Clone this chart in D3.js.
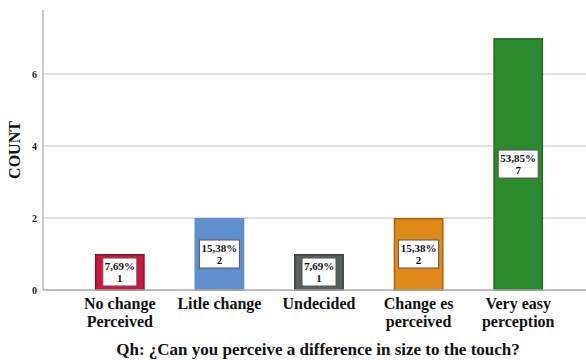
<!DOCTYPE html>
<html>
<head>
<meta charset="utf-8">
<script src="https://cdn.jsdelivr.net/npm/d3@7"></script>
<style>
  html, body { margin: 0; padding: 0; background: #fff; }
  svg { display: block; }
</style>
</head>
<body>
<svg id="chart" width="586" height="360"></svg>
<script>
// Response categories (two-line labels) and their counts
const categories = [
  ["No change", "Perceived"],
  ["Litle change"],
  ["Undecided"],
  ["Change es", "perceived"],
  ["Very easy", "perception"]
];
const counts = [1, 2, 1, 2, 7];
const percentLabels = ["7,69%", "15,38%", "7,69%", "15,38%", "53,85%"];
const yTicks = [0, 2, 4, 6];
const fills = ["#d3153b", "#5f8fcc", "#58625e", "#e08918", "#2b8a2c"];
const strokes = ["#7a1a2a", "#5f8fcc", "#3a403d", "#a8650f", "#236f24"];
const xTitle = "Qh: ¿Can you perceive a difference in size to the touch?";
const yTitle = "COUNT";

const serif = "'Liberation Serif', 'Times New Roman', Times, serif";
const svg = d3.select("#chart");
const axisLeft = 43, axisRight = 586, plotTop = 10, plotBottom = 290;

const x = d3.scaleBand()
  .domain(d3.range(counts.length))
  .range([70, 568])
  .paddingInner(0.5)
  .paddingOuter(0.25);

const y = d3.scaleLinear().domain([0, 7.78]).range([plotBottom, plotTop]);

// gridlines
svg.append("g").selectAll("line")
  .data(yTicks.filter(d => d > 0))
  .join("line")
  .attr("x1", axisLeft).attr("x2", axisRight)
  .attr("y1", d => y(d)).attr("y2", d => y(d))
  .attr("stroke", "#d6d6d6").attr("stroke-width", 1.5);

// y axis
const yAxis = svg.append("g")
  .attr("transform", `translate(${axisLeft},0)`)
  .call(d3.axisLeft(y).tickValues(yTicks).tickSize(0).tickPadding(6).tickFormat(d3.format("d")));
yAxis.attr("font-family", serif);
yAxis.select(".domain").remove();
yAxis.selectAll("text")
  .attr("font-weight", "bold")
  .attr("font-size", 10)
  .attr("fill", "#222");
svg.append("line")
  .attr("x1", axisLeft).attr("x2", axisLeft)
  .attr("y1", plotTop).attr("y2", plotBottom)
  .attr("stroke", "#b8b8b8").attr("stroke-width", 1.5);

// bars
svg.append("g").selectAll("rect")
  .data(counts)
  .join("rect")
  .attr("x", (d, i) => x(i) + 0.75)
  .attr("width", x.bandwidth() - 1.5)
  .attr("y", d => y(d) + 0.75)
  .attr("height", d => y(0) - y(d) - 0.75)
  .attr("fill", (d, i) => fills[i])
  .attr("stroke", (d, i) => strokes[i])
  .attr("stroke-width", 1.5);

// baseline
svg.append("line")
  .attr("x1", axisLeft).attr("x2", axisRight)
  .attr("y1", plotBottom).attr("y2", plotBottom)
  .attr("stroke", "#a8a8a8").attr("stroke-width", 1.5);

// value boxes centred in each bar
const labels = svg.append("g").selectAll("g")
  .data(counts)
  .join("g")
  .attr("transform", (d, i) => `translate(${x(i) + x.bandwidth() / 2},${(y(d) + y(0)) / 2})`);
labels.append("rect")
  .attr("x", (d, i) => percentLabels[i].length > 5 ? -20 : -17)
  .attr("width", (d, i) => percentLabels[i].length > 5 ? 40 : 34)
  .attr("y", -14).attr("height", 28)
  .attr("fill", "#fff")
  .attr("stroke", "#555").attr("stroke-width", 1);
labels.append("text")
  .attr("text-anchor", "middle")
  .attr("font-family", serif)
  .attr("font-weight", "bold")
  .attr("font-size", 11)
  .attr("fill", "#111")
  .attr("y", -2)
  .text((d, i) => percentLabels[i]);
labels.append("text")
  .attr("text-anchor", "middle")
  .attr("font-family", serif)
  .attr("font-weight", "bold")
  .attr("font-size", 11)
  .attr("fill", "#111")
  .attr("y", 10)
  .text(d => d);

// category labels
const cat = svg.append("g").selectAll("text")
  .data(categories)
  .join("text")
  .attr("text-anchor", "middle")
  .attr("font-family", serif)
  .attr("font-weight", "bold")
  .attr("font-size", 16)
  .attr("fill", "#111")
  .attr("x", (d, i) => x(i) + x.bandwidth() / 2)
  .attr("y", 309);
cat.selectAll("tspan")
  .data(d => d)
  .join("tspan")
  .attr("x", function () { return d3.select(this.parentNode).attr("x"); })
  .attr("dy", (d, i) => i === 0 ? 0 : 18)
  .text(d => d);

// axis titles
svg.append("text")
  .attr("x", 318).attr("y", 355)
  .attr("text-anchor", "middle")
  .attr("font-family", serif)
  .attr("font-weight", "bold")
  .attr("font-size", 17)
  .attr("fill", "#111")
  .text(xTitle);
svg.append("text")
  .attr("transform", "translate(20,150) rotate(-90)")
  .attr("text-anchor", "middle")
  .attr("font-family", serif)
  .attr("font-weight", "bold")
  .attr("font-size", 16)
  .attr("fill", "#111")
  .text(yTitle);
</script>
</body>
</html>
